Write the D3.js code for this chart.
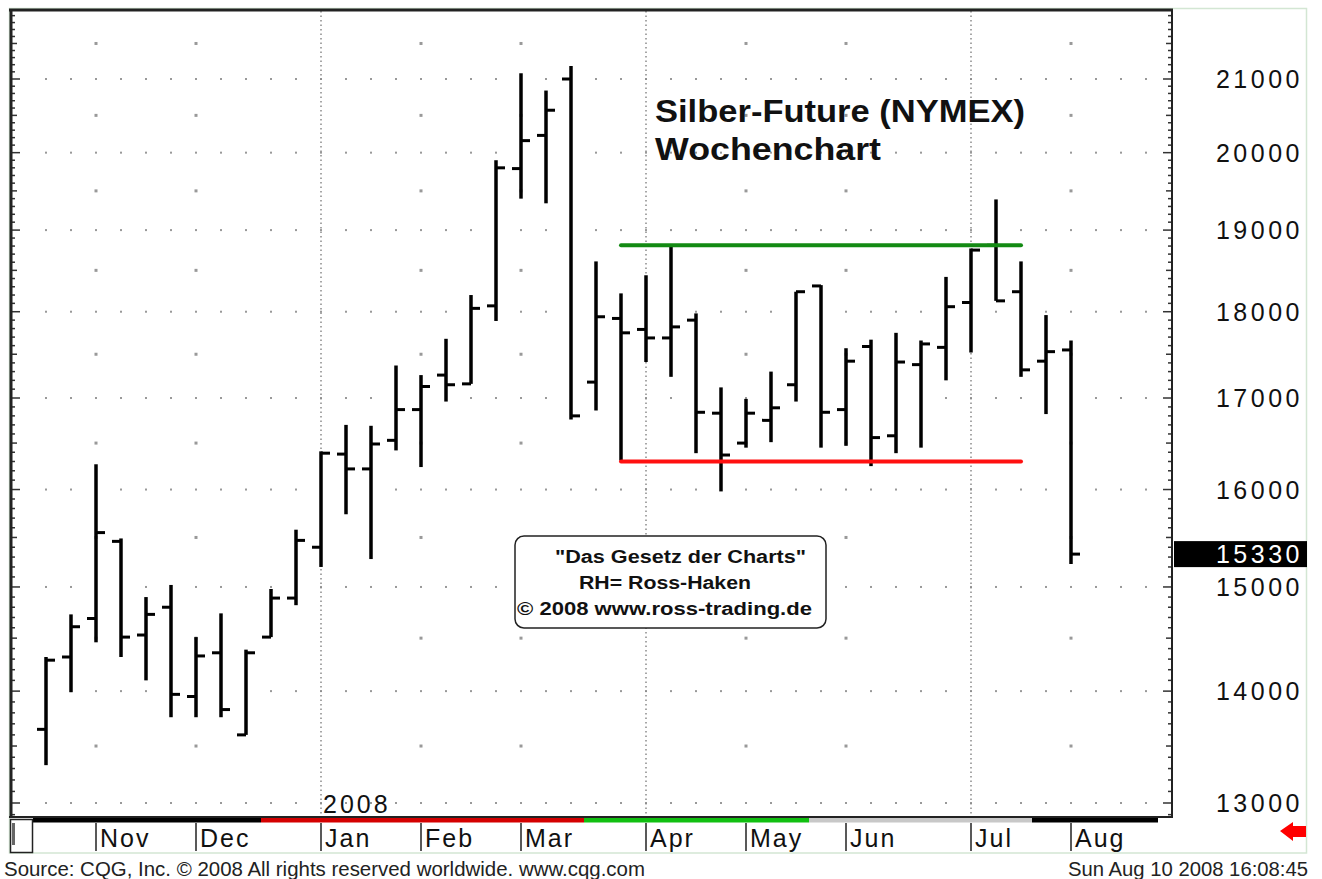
<!DOCTYPE html>
<html>
<head>
<meta charset="utf-8">
<script src="https://cdn.jsdelivr.net/npm/d3@7/dist/d3.min.js"></script>
<style>
  body { margin: 0; background: #fff; }
  svg text { font-family: "Liberation Sans", Arial, sans-serif; }
</style>
</head>
<body>
<div id="viz"></div>
<script>
// weekly OHLC, Silber-Future (NYMEX), week index 0 = Oct 15 2007
var opens  = [13650, 14320, 14690, 15460, 14530, 14800, 13950, 14360, 13600, 14510, 14890,
              15400, 16380, 16220, 16530, 16870, 17260, 17160, 18070, 19790, 20230, 21000,
              17180, 17920, 17790, 17690, 17900, 16830, 16500, 16750, 17150, 18310, 16870,
              17590, 16580, 17380, 17580, 18110, 18810, 18240, 17420, 17550];
var highs  = [14320, 14730, 16270, 15490, 14900, 15020, 14510, 14740, 14390, 14980, 15580,
              16410, 16700, 16690, 17370, 17260, 17680, 18200, 19900, 21080, 20840, 21180,
              18610, 18220, 18440, 18800, 17980, 17120, 16990, 17300, 18240, 18320, 17570,
              17670, 17750, 17660, 18420, 18770, 19390, 18610, 17960, 17660];
var lows   = [13330, 13990, 14460, 14320, 14100, 13760, 13760, 13760, 13600, 14510, 14820,
              15200, 15740, 15280, 16420, 16240, 16960, 17160, 17890, 19400, 19340, 16760,
              16860, 16310, 17410, 17240, 16390, 15980, 16450, 16510, 16960, 16450, 16470,
              16250, 16390, 16450, 17200, 17520, 18130, 17240, 16820, 15230];
var closes = [14290, 14610, 15550, 14510, 14730, 13970, 14330, 13830, 14360, 14890, 15470,
              16390, 16220, 16490, 16870, 17130, 17150, 18040, 19800, 20160, 20570, 16800,
              17940, 17750, 17690, 17820, 16840, 16370, 16830, 16890, 18240, 16840, 17420,
              16560, 17410, 17620, 18060, 18750, 18130, 17320, 17530, 15330];

var months = ["Nov", "Dec", "Jan", "Feb", "Mar", "Apr", "May", "Jun", "Jul", "Aug"];
var monthWeeks = [2, 6, 11, 15, 19, 24, 28, 32, 37, 41];
var quarterMonths = ["Jan", "Apr", "Jul"];
var priceTicks = [13000, 14000, 15000, 16000, 17000, 18000, 19000, 20000, 21000];
var halfTicks = [13500, 14500, 15500, 16500, 17500, 18500, 19500, 20500, 21500];

// Ross-Haken channel
var resistance = 18810;
var support = 16300;
var channelWeeks = [23, 39];

// colored period band under the plot (week boundaries)
var bandEdges = [-0.52, 8.6, 21.52, 30.52, 39.44, 44.48];
var bandColors = ["#000", "#d40000", "#11c011", "#c8c8c8", "#000"];

var titleLines = ["Silber-Future (NYMEX)", "Wochenchart"];
var infoLines = ["\"Das Gesetz der Charts\"", "RH= Ross-Haken", "\u00a9 2008 www.ross-trading.de"];

var w = 1322, h = 879;
var plot = { left: 11, top: 9, right: 1172, bottom: 817 };
var nWeeks = 45;

var svg = d3.select("div#viz").append("svg").attr("width", w).attr("height", h);

var x = d3.scaleLinear().domain([0, 44]).range([46, 1146]);
var y = d3.scaleLog().domain([13000, 21000]).range([803, 79]);

// outer light frame
svg.append("rect")
  .attr("x", 9.5).attr("y", 8.5).attr("width", 1297).attr("height", 844.5)
  .attr("fill", "none").attr("stroke", "#d3e6d3").attr("stroke-width", 1.5);

// grid dots on round levels, one per week
var weekIdx = d3.range(nWeeks);
priceTicks.forEach(function(v) {
  svg.append("g").selectAll("rect")
    .data(weekIdx)
    .enter()
    .append("rect")
    .attr("x", function(d) { return x(d) - 1; })
    .attr("y", y(v) - 1)
    .attr("width", 2).attr("height", 2)
    .attr("fill", "#999");
});

// half levels only on month columns
monthWeeks.forEach(function(m, k) {
  if (quarterMonths.indexOf(months[k]) >= 0) return;
  svg.append("g").selectAll("rect")
    .data(halfTicks)
    .enter()
    .append("rect")
    .attr("x", x(m) - 1.5)
    .attr("y", function(d) { return y(d) - 1.5; })
    .attr("width", 3).attr("height", 3)
    .attr("fill", "#999");
});

// quarter lines
monthWeeks.forEach(function(m, k) {
  if (quarterMonths.indexOf(months[k]) < 0) return;
  svg.append("line")
    .attr("x1", x(m)).attr("x2", x(m))
    .attr("y1", plot.top + 2).attr("y2", plot.bottom)
    .attr("stroke", "#8a8a8a").attr("stroke-width", 1.5)
    .attr("stroke-dasharray", "1.5,3");
});

// axis minor ticks (left and right)
var minorVals = d3.range(12900, 22001, 100).filter(function(v) {
  var p = y(v); return p > plot.top + 2 && p < plot.bottom - 1;
});
function tickLen(v) { return v % 1000 === 0 ? 9 : (v % 500 === 0 ? 6 : 4); }
svg.append("g").selectAll("line")
  .data(minorVals).enter().append("line")
  .attr("x1", plot.left).attr("x2", function(d) { return plot.left + tickLen(d); })
  .attr("y1", function(d) { return y(d); }).attr("y2", function(d) { return y(d); })
  .attr("stroke", "#333").attr("stroke-width", 1.5);
svg.append("g").selectAll("line")
  .data(minorVals).enter().append("line")
  .attr("x1", plot.right).attr("x2", function(d) { return plot.right - tickLen(d); })
  .attr("y1", function(d) { return y(d); }).attr("y2", function(d) { return y(d); })
  .attr("stroke", "#333").attr("stroke-width", 1.5);

// plot frame
svg.append("line").attr("x1", 9).attr("x2", plot.right + 1).attr("y1", 10).attr("y2", 10)
  .attr("stroke", "#222").attr("stroke-width", 3);
svg.append("line").attr("x1", 11).attr("x2", 11).attr("y1", 9).attr("y2", plot.bottom + 1)
  .attr("stroke", "#222").attr("stroke-width", 3);
svg.append("line").attr("x1", plot.right).attr("x2", plot.right).attr("y1", 9).attr("y2", plot.bottom + 1)
  .attr("stroke", "#222").attr("stroke-width", 2);
svg.append("line").attr("x1", 9).attr("x2", plot.right + 1).attr("y1", plot.bottom).attr("y2", plot.bottom)
  .attr("stroke", "#222").attr("stroke-width", 2);

// price labels
svg.append("g").selectAll("text")
  .data(priceTicks).enter().append("text")
  .attr("x", 1303).attr("y", function(d) { return y(d); })
  .attr("dy", "0.36em")
  .attr("text-anchor", "end")
  .style("font-size", "25px").style("letter-spacing", "3.5px")
  .attr("fill", "#111")
  .text(function(d) { return d; });

// info box
svg.append("rect")
  .attr("x", 515).attr("y", 536).attr("width", 311).attr("height", 92).attr("rx", 9)
  .attr("fill", "#fff").attr("stroke", "#222").attr("stroke-width", 1.5);
var infoPos = [[555, 563, 251], [579, 589, 172], [517, 615, 295]];
infoLines.forEach(function(t, k) {
  svg.append("text")
    .attr("x", infoPos[k][0]).attr("y", infoPos[k][1])
    .attr("textLength", infoPos[k][2]).attr("lengthAdjust", "spacingAndGlyphs")
    .style("font-size", "18px").style("font-weight", "bold")
    .attr("fill", "#111")
    .text(t);
});

// title
svg.append("text").attr("x", 655).attr("y", 122)
  .attr("textLength", 370).attr("lengthAdjust", "spacingAndGlyphs")
  .style("font-size", "31px").style("font-weight", "bold").attr("fill", "#111")
  .text(titleLines[0]);
svg.append("text").attr("x", 655).attr("y", 160)
  .attr("textLength", 226).attr("lengthAdjust", "spacingAndGlyphs")
  .style("font-size", "31px").style("font-weight", "bold").attr("fill", "#111")
  .text(titleLines[1]);

// OHLC bars
var bars = opens.map(function(o, i) {
  return { i: i, open: o, high: highs[i], low: lows[i], close: closes[i] };
});
var g = svg.append("g").selectAll("g").data(bars).enter().append("g");
g.append("line")
  .attr("x1", function(d) { return x(d.i); }).attr("x2", function(d) { return x(d.i); })
  .attr("y1", function(d) { return y(d.high); }).attr("y2", function(d) { return y(d.low); })
  .attr("stroke", "#000").attr("stroke-width", 3.5);
g.append("line")
  .attr("x1", function(d) { return x(d.i) - 9; }).attr("x2", function(d) { return x(d.i); })
  .attr("y1", function(d) { return y(d.open); }).attr("y2", function(d) { return y(d.open); })
  .attr("stroke", "#000").attr("stroke-width", 3);
g.append("line")
  .attr("x1", function(d) { return x(d.i); }).attr("x2", function(d) { return x(d.i) + 9; })
  .attr("y1", function(d) { return y(d.close); }).attr("y2", function(d) { return y(d.close); })
  .attr("stroke", "#000").attr("stroke-width", 3);

// channel lines (drawn over the bars)
svg.append("line")
  .attr("x1", x(channelWeeks[0])).attr("x2", x(channelWeeks[1]))
  .attr("y1", y(resistance)).attr("y2", y(resistance))
  .attr("stroke", "#138a13").attr("stroke-width", 4).attr("stroke-linecap", "round");
svg.append("line")
  .attr("x1", x(channelWeeks[0])).attr("x2", x(channelWeeks[1]))
  .attr("y1", y(support)).attr("y2", y(support))
  .attr("stroke", "#ff1010").attr("stroke-width", 4).attr("stroke-linecap", "round");

// last price box
var lastPrice = closes[closes.length - 1];
svg.append("rect")
  .attr("x", 1174).attr("y", y(lastPrice) - 13).attr("width", 133).attr("height", 26)
  .attr("fill", "#000");
svg.append("text")
  .attr("x", 1303).attr("y", y(lastPrice)).attr("dy", "0.36em")
  .attr("text-anchor", "end")
  .style("font-size", "25px").style("letter-spacing", "3.5px")
  .attr("fill", "#fff")
  .text(lastPrice);

// period band
svg.append("g").selectAll("rect")
  .data(bandColors).enter().append("rect")
  .attr("x", function(d, k) { return x(bandEdges[k]); })
  .attr("width", function(d, k) { return x(bandEdges[k + 1]) - x(bandEdges[k]); })
  .attr("y", 818).attr("height", 4.5)
  .attr("fill", function(d) { return d; });

// year label
svg.append("text")
  .attr("x", x(monthWeeks[months.indexOf("Jan")]) + 2).attr("y", 813)
  .style("font-size", "25px").style("letter-spacing", "3px").attr("fill", "#111")
  .text("2008");

// month row
svg.append("g").selectAll("line")
  .data(monthWeeks).enter().append("line")
  .attr("x1", function(d) { return x(d); }).attr("x2", function(d) { return x(d); })
  .attr("y1", 823).attr("y2", 851)
  .attr("stroke", "#222").attr("stroke-width", 1.5);
svg.append("g").selectAll("text")
  .data(months).enter().append("text")
  .attr("x", function(d, k) { return x(monthWeeks[k]) + 4; })
  .attr("y", 847)
  .style("font-size", "25px").style("letter-spacing", "2px").attr("fill", "#111")
  .text(function(d) { return d; });

// small box at left of month row
svg.append("rect").attr("x", 10.5).attr("y", 819.5).attr("width", 22).attr("height", 33)
  .attr("fill", "#fff").attr("stroke", "#222").attr("stroke-width", 1.5);
svg.append("rect").attr("x", 12).attr("y", 823).attr("width", 3).attr("height", 22)
  .attr("fill", "#666");

// red arrow
svg.append("path")
  .attr("d", "M1280,831 L1293,822 L1293,826 L1306,826 L1306,837 L1293,837 L1293,841 Z")
  .attr("fill", "#f00");

// footer
svg.append("text").attr("x", 4).attr("y", 876)
  .attr("textLength", 641).attr("lengthAdjust", "spacingAndGlyphs")
  .style("font-size", "20px").attr("fill", "#222")
  .text("Source: CQG, Inc. \u00a9 2008 All rights reserved worldwide. www.cqg.com");
svg.append("text").attr("x", 1068).attr("y", 876)
  .attr("textLength", 240).attr("lengthAdjust", "spacingAndGlyphs")
  .style("font-size", "20px").attr("fill", "#222")
  .text("Sun Aug 10 2008 16:08:45");
</script>
</body>
</html>
